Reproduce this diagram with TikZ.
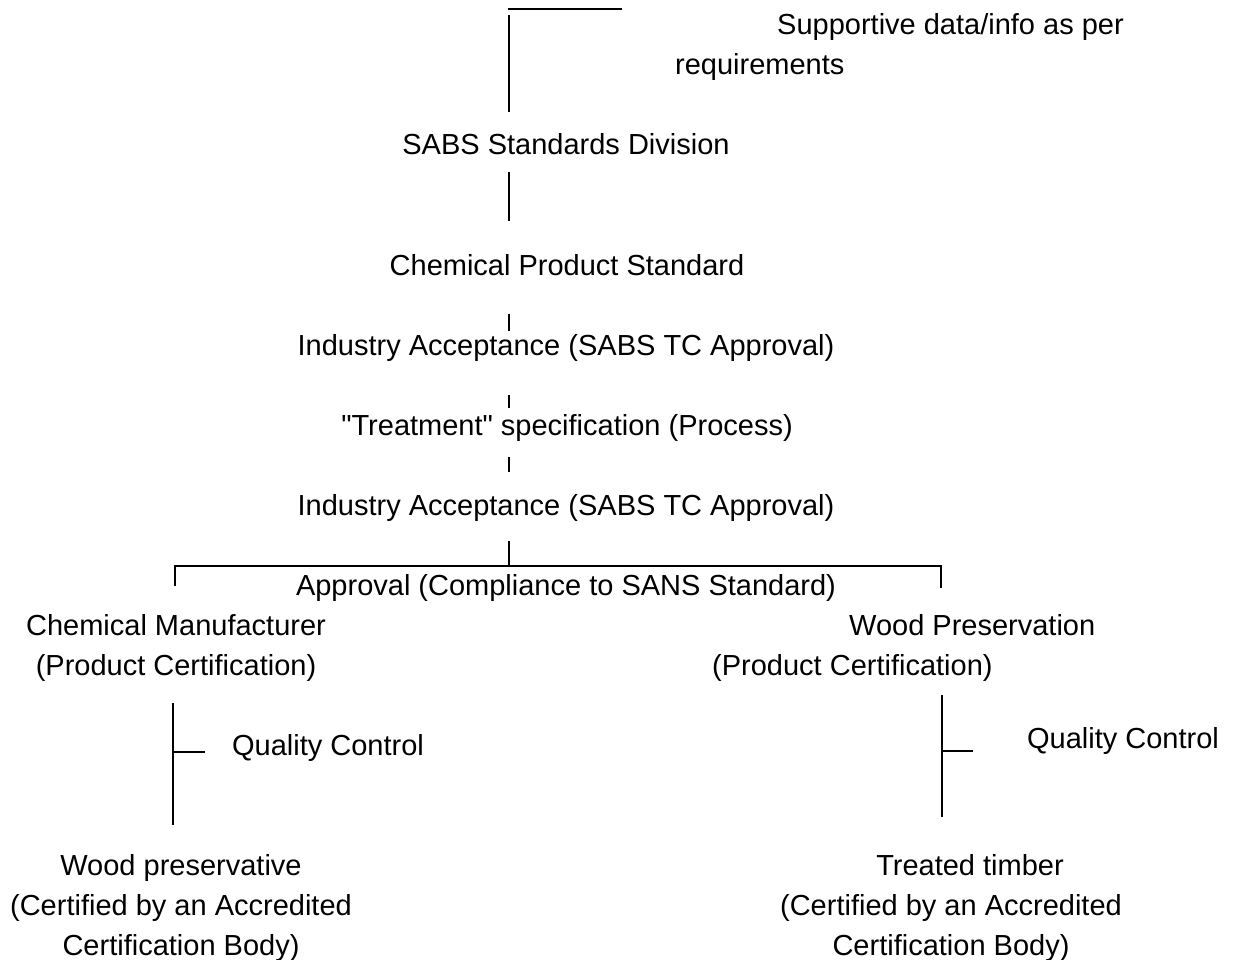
\documentclass[tikz,border=0pt]{standalone}
\usepackage{fontspec}
\setmainfont{Liberation Sans}[Ligatures=TeXOff]
\begin{document}
\begin{tikzpicture}[x=1pt,y=-1pt,
  txt/.style={font=\fontsize{29}{40}\selectfont, inner sep=0pt, anchor=base},
  ln/.style={line width=1.6pt}]
\useasboundingbox (0,0) rectangle (1237,960);
% text nodes (multi-line nodes are placed by the baseline of their last line)
\node[txt, anchor=base west, align=left] (supp) at (675,75) {\hspace*{102pt}Supportive data/info as per\\requirements};
\node[txt] (sabs) at (566,155) {SABS Standards Division};
\node[txt] (cps) at (567,275) {Chemical Product Standard};
\node[txt] (ia1) at (566,355) {Industry Acceptance (SABS TC Approval)};
\node[txt] (treat) at (567,435) {"Treatment" specification (Process)};
\node[txt] (ia2) at (566,515) {Industry Acceptance (SABS TC Approval)};
\node[txt] (appr) at (566,595) {Approval (Compliance to SANS Standard)};
\node[txt, align=center] (cm) at (176,675) {Chemical Manufacturer\\(Product Certification)};
\node[txt, anchor=base west, align=left] (wp) at (712,675) {\hspace*{137pt}Wood Preservation\\(Product Certification)};
\node[txt] (qc1) at (328,755) {Quality Control};
\node[txt] (qc2) at (1123,748) {Quality Control};
\node[txt, align=center] (wpres) at (181,955) {Wood preservative\\(Certified by an Accredited\\Certification Body)};
\node[txt, align=center] (tt) at (951,955) {\hspace*{38pt}Treated timber\\(Certified by an Accredited\\Certification Body)};
% connectors
\coordinate (t0) at (508,9);
\coordinate (t1) at (622,9);
\draw[ln] (t0) -- (t1);
\coordinate (s0) at (509,15);
\coordinate (s1) at (509,112);
\draw[ln] (s0) -- (s1);
\coordinate (a0) at (509,172);
\coordinate (a1) at (509,221);
\draw[ln] (a0) -- (a1);
\coordinate (b0) at (509,314);
\coordinate (b1) at (509,331);
\draw[ln] (b0) -- (b1);
\coordinate (c0) at (509,395);
\coordinate (c1) at (509,408);
\draw[ln] (c0) -- (c1);
\coordinate (d0) at (509,457);
\coordinate (d1) at (509,472);
\draw[ln] (d0) -- (d1);
\coordinate (e0) at (509,541);
\coordinate (e1) at (509,566);
\draw[ln] (e0) -- (e1);
\coordinate (hl) at (175,566);
\coordinate (hr) at (941,566);
\coordinate (hl1) at (175,586);
\coordinate (hr1) at (941,588);
\draw[ln] (hl1) -- (hl) -- (hr) -- (hr1);
\coordinate (l0) at (173,703);
\coordinate (l1) at (173,825);
\coordinate (lm) at (173,752);
\coordinate (lq) at (205,752);
\draw[ln] (l0) -- (l1);
\draw[ln] (lm) -- (lq);
\coordinate (r0) at (942,695);
\coordinate (r1) at (942,817);
\coordinate (rm) at (942,751);
\coordinate (rq) at (973,751);
\draw[ln] (r0) -- (r1);
\draw[ln] (rm) -- (rq);
\end{tikzpicture}
\end{document}
